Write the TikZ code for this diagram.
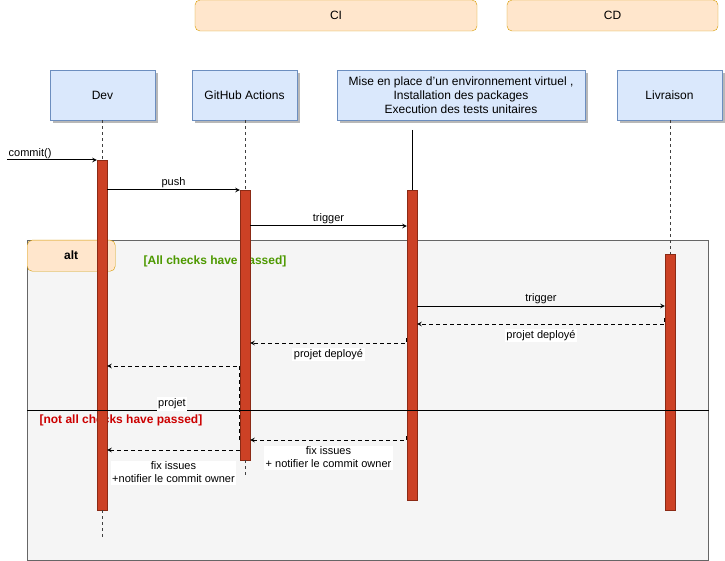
\documentclass[tikz,border=0pt]{standalone}
\usepackage{fontspec}
\setmainfont{Liberation Sans}
\usetikzlibrary{arrows,shadows,positioning}
\definecolor{lifefill}{HTML}{DAE8FC}
\definecolor{lifedraw}{HTML}{6C8EBF}
\definecolor{grpfill}{HTML}{FFE6CC}
\definecolor{grpdraw}{HTML}{D79B00}
\definecolor{barfill}{HTML}{CC4125}
\definecolor{bardraw}{HTML}{8B2A15}
\definecolor{altfill}{HTML}{F5F5F5}
\definecolor{altdraw}{HTML}{666666}
\definecolor{okgreen}{HTML}{4D9900}
\definecolor{kored}{HTML}{CC0000}

\begin{document}
\begin{tikzpicture}[x=1pt,y=-1pt,>=stealth,
        every node/.style={font=\fontsize{12}{14}\selectfont},
        grpbox/.style={draw=grpdraw,fill=grpfill,rounded corners=5pt,minimum height=31pt},
        lifebox/.style={draw=lifedraw,fill=lifefill,minimum width=105pt,minimum height=50pt,align=center,
            drop shadow={shadow xshift=3pt,shadow yshift=-3pt,fill=black!28,opacity=1}},
        actbar/.style={draw=bardraw,fill=barfill,minimum width=10pt,inner sep=0pt,anchor=north},
        lifeline/.style={draw=black!75,dash pattern=on 3pt off 3pt,line width=1pt},
        msg/.style={->,line width=1pt},
        reply/.style={->,line width=1pt,dash pattern=on 4pt off 3pt},
        lbl/.style={font=\fontsize{11}{13}\selectfont,fill=white,inner sep=1.5pt,align=center}]
    \useasboundingbox (0,0) rectangle (725,561);

    % groups
    \node[grpbox,minimum width=282pt] (ci) at (336,15.5) {CI};
    \node[grpbox,minimum width=211pt] (cd) at (612.5,15.5) {CD};

    % participants
    \node[lifebox] (dev) at (102.5,95) {Dev};
    \node[lifebox] (gh) at (244.5,95) {GitHub Actions};
    \node[lifebox,minimum width=248pt] (mise) at (461,95) {Mise en place d'un environnement virtuel ,\\Installation des packages\\Execution des tests unitaires};
    \node[lifebox] (liv) at (669.5,95) {Livraison};

    % alt frame
    \node[draw=altdraw,fill=altfill,line width=1pt,minimum width=681pt,minimum height=320pt,anchor=north west] (altfrm) at (27,240) {};
    \node[grpbox,minimum width=88pt,anchor=north west,font=\fontsize{12}{14}\selectfont\bfseries] (alttag) at (27,240) {alt};
    \node[text=okgreen,font=\fontsize{12}{14}\selectfont\bfseries] (okcond) at (215,261) {[All checks have passed]};
    \node[text=kored,font=\fontsize{12}{14}\selectfont\bfseries,anchor=west] (kocond) at (36,420) {[not all checks have passed]};

    % activations
    \node[actbar,minimum height=350pt] (devbar) at (102,160) {};
    \node[actbar,minimum height=270pt] (ghbar) at (245,190) {};
    \node[actbar,minimum height=310pt] (misebar) at (412,190) {};
    \node[actbar,minimum height=256pt] (livbar) at (670,254) {};

    \coordinate (devend) at (102,540);
    \coordinate (ghend) at (245,475);
    \coordinate (misetop) at (412,130);
    \coordinate (commitsrc) at (7,160);

    % lifelines
    \draw[lifeline] (dev.south -| devbar) -- (devbar.north);
    \draw[lifeline] (devbar.south) -- (devend);
    \draw[lifeline] (gh.south -| ghbar) -- (ghbar.north);
    \draw[lifeline] (ghbar.south) -- (ghend);
    \draw[line width=1pt] (misetop) -- (misebar.north);
    \draw[lifeline] (liv.south -| livbar) -- (livbar.north);

    \draw[line width=1pt] (altfrm.west |- 0,410) -- (altfrm.east |- 0,410);

    % messages
    \draw[msg] (commitsrc) -- (devbar.west |- commitsrc);
    \node[lbl,fill=none,anchor=south west] (commitlbl) at (commitsrc) {commit()};
    \draw[msg] (devbar.east |- 0,190) -- (ghbar.west |- 0,190) node[midway,above,lbl,fill=none] {push};
    \draw[msg] (ghbar.east |- 0,226) -- (misebar.west |- 0,226) node[midway,above,lbl,fill=none] {trigger};
    \draw[msg] (misebar.east |- 0,306) -- (livbar.west |- 0,306) node[midway,above,lbl,fill=none] {trigger};
    \draw[reply] (livbar.west |- 0,318) |- (misebar.east |- 0,324) node[pos=0.75,below=4pt,lbl] {projet deployé};
    \draw[reply] (misebar.west |- 0,338) |- (ghbar.east |- 0,343) node[pos=0.75,below=4pt,lbl] {projet deployé};
    \draw[reply] (ghbar.west |- 0,440) |- (devbar.east |- 0,366);
    \node[lbl] (projetlbl) at (172,404) {projet};
    \draw[reply] (misebar.west |- 0,436) |- (ghbar.east |- 0,440) node[pos=0.75,below=5pt,lbl] {fix issues\\+ notifier le commit owner};
    \draw[reply] (ghbar.west |- 0,450) -- (devbar.east |- 0,450) node[midway,below=10pt,lbl] {fix issues\\+notifier le commit owner};
\end{tikzpicture}
\end{document}
